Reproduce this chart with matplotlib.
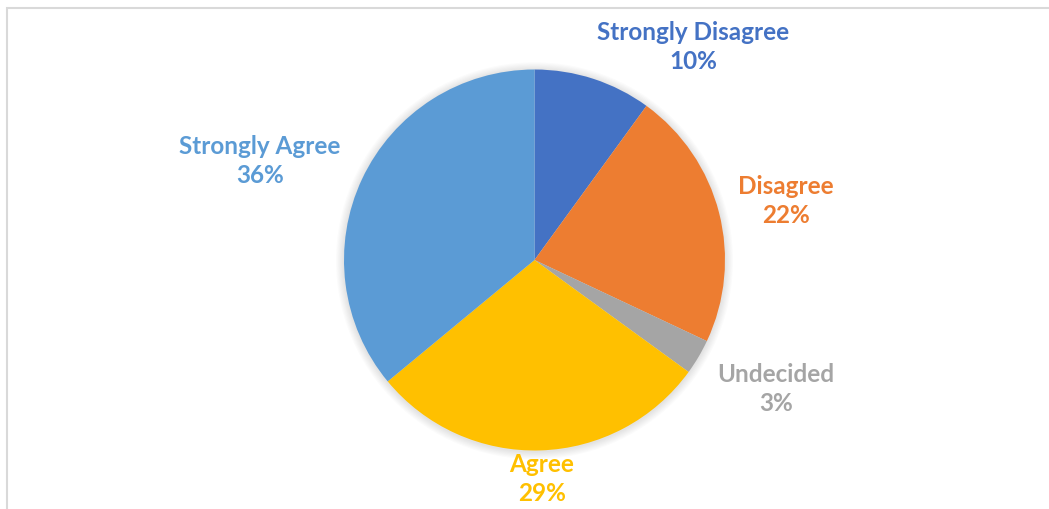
import matplotlib
matplotlib.use("Agg")
import matplotlib.pyplot as plt
from matplotlib.patches import Circle, Rectangle

plt.rcParams['font.family'] = ['Lato', 'DejaVu Sans']

categories = ['Strongly Disagree', 'Disagree', 'Undecided', 'Agree', 'Strongly Agree']
shares = [10, 22, 3, 29, 36]
colors = ['#4472C4', '#ED7D31', '#A5A5A5', '#FFC000', '#5B9BD5']

# label centres, in units of the pie radius from its centre
label_xy = [(0.832, 1.123), (1.320, 0.315), (1.268, -0.672),
            (0.039, -1.144), (-1.441, 0.525)]

W, H = 1049, 510
cx, cy, R = 534.5, 261.0, 190.5   # pixel centre / radius of the pie

fig = plt.figure(figsize=(W / 100, H / 100), dpi=100)
ax = fig.add_axes([0, 0, 1, 1])

# soft drop shadow around the pie
for k in range(7):
    ax.add_patch(Circle((0, -0.004), 1.0 + 0.006 * (k + 1), color='#000000',
                        alpha=0.014, lw=0, zorder=0))

wedges, _ = ax.pie(shares, colors=colors, startangle=90, counterclock=False,
                   radius=1.0, center=(0, 0), frame=True,
                   wedgeprops=dict(linewidth=0))
ax.set_xlim(-cx / R, (W - cx) / R)
ax.set_ylim(-(H - cy) / R, cy / R)
ax.set_aspect('auto')
ax.axis('off')

for name, val, col, (lx, ly) in zip(categories, shares, colors, label_xy):
    ax.text(lx, ly, f"{name}\n{val}%", ha='center', va='center',
            color=col, fontsize=17.5, fontweight='bold', linespacing=1.33)

# chart area outline
fig.patches.append(Rectangle((7 / W, -0.1), 1.2, (H - 8.5) / H + 0.1,
                             transform=fig.transFigure, fill=False,
                             edgecolor='#D9D9D9', lw=1.5))

fig.savefig('out.png', dpi=100, facecolor='white')
